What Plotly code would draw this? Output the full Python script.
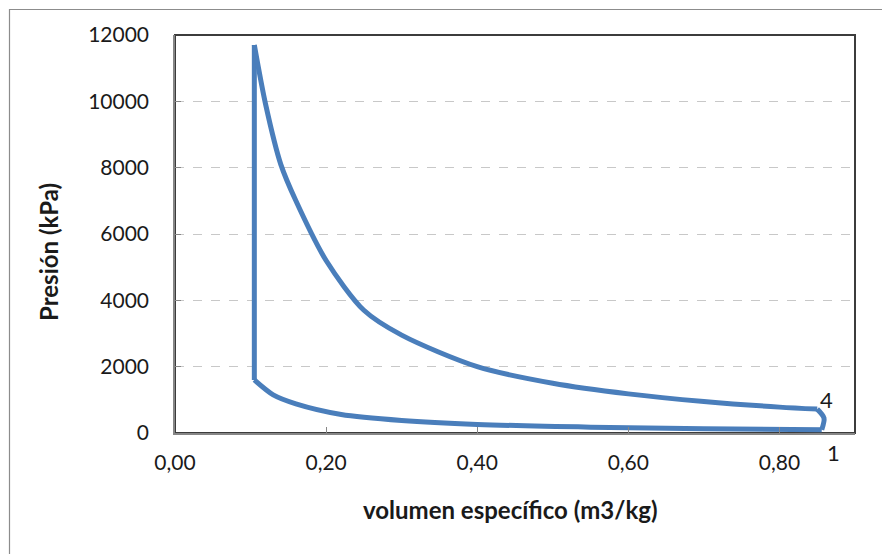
import plotly.graph_objects as go

# Otto cycle: 1 -> 2 (compression) -> 3 (heat addition) -> 4 (expansion) -> 1
v_compresion = [0.856, 0.70, 0.55, 0.40, 0.30, 0.22, 0.16, 0.13, 0.105]
p_compresion = [100, 130, 175, 260, 380, 560, 880, 1150, 1600]

v_calor = [0.105, 0.105]
p_calor = [1600, 11700]

v_expansion = [0.105, 0.12, 0.14, 0.16, 0.20, 0.25, 0.30, 0.40, 0.50, 0.60, 0.70, 0.80, 0.85]
p_expansion = [11700, 9900, 8100, 7000, 5200, 3700, 2950, 2000, 1500, 1180, 950, 780, 720]

v_escape = [0.85, 0.859, 0.856]
p_escape = [720, 450, 100]

x_ticks = [0, 0.2, 0.4, 0.6, 0.8]
y_ticks = [0, 2000, 4000, 6000, 8000, 10000, 12000]

font_family = "Lato, 'Open Sans', sans-serif"
txt = "#1a1a1a"
blue = "#4a7ebb"

# page body adds an 8px offset; compensate in margins
OFF = 8
L, T, R, B = 175 - OFF, 35 - OFF, 890 - 855 + OFF, 554 - 433 + OFF
W, H = 680, 398


def px(x):
    return (x - 175) / W


def py(y):
    return (433 - y) / H


fig = go.Figure()
for vx, pp, shp in [(v_compresion, p_compresion, "spline"),
                    (v_calor, p_calor, "linear"),
                    (v_expansion, p_expansion, "spline"),
                    (v_escape, p_escape, "spline")]:
    fig.add_trace(go.Scatter(
        x=vx, y=pp, mode="lines",
        line=dict(color=blue, width=5, shape=shp, smoothing=0.8),
        hoverinfo="skip", showlegend=False,
    ))

fig.update_layout(
    width=890, height=554,
    margin=dict(l=L, r=R, t=T, b=B),
    paper_bgcolor="white", plot_bgcolor="white",
    separators=",.",
    font=dict(family=font_family, color=txt, size=22),
    xaxis=dict(
        range=[0, 0.9], tickvals=x_ticks, tickformat=".2f",
        showgrid=False, zeroline=False, automargin=False,
        showline=True, linecolor="#868686", linewidth=1.5,
        ticks="inside", ticklen=6, tickcolor="#868686",
        ticklabelstandoff=10,
        tickfont=dict(size=21, color=txt),
    ),
    yaxis=dict(
        range=[0, 12000], tickvals=y_ticks, tickformat="d",
        showgrid=True, gridcolor="#c8c8c8", griddash="dash", gridwidth=1,
        zeroline=False, automargin=False,
        showline=True, linecolor="#868686", linewidth=1.5,
        ticks="inside", ticklen=6, tickcolor="#868686",
        ticklabelstandoff=20,
        tickfont=dict(size=21, color=txt),
    ),
    shapes=[
        dict(type="rect", xref="paper", yref="paper", x0=0, y0=0, x1=1, y1=1,
             line=dict(color="#3c3c3c", width=2), layer="below"),
        dict(type="rect", xref="paper", yref="paper", x0=px(9.5), y0=py(570), x1=px(886), y1=py(9.5),
             line=dict(color="#8c8c8c", width=1.2), layer="below"),
    ],
    annotations=[
        dict(x=px(510), y=py(509), xref="paper", yref="paper", xanchor="center", yanchor="middle",
             text="<b>volumen específico (m3/kg)</b>", showarrow=False,
             font=dict(size=24, color=txt)),
        dict(x=px(48), y=py(252), xref="paper", yref="paper", xanchor="center", yanchor="middle",
             text="<b>Presión (kPa)</b>", showarrow=False, textangle=-90,
             font=dict(size=24, color=txt)),
        dict(x=px(826), y=py(399), xref="paper", yref="paper", xanchor="center", yanchor="middle",
             text="4", showarrow=False, font=dict(size=22, color=txt)),
        dict(x=px(833), y=py(452), xref="paper", yref="paper", xanchor="center", yanchor="middle",
             text="1", showarrow=False, font=dict(size=22, color=txt)),
    ],
)

fig.write_html("out.html")
